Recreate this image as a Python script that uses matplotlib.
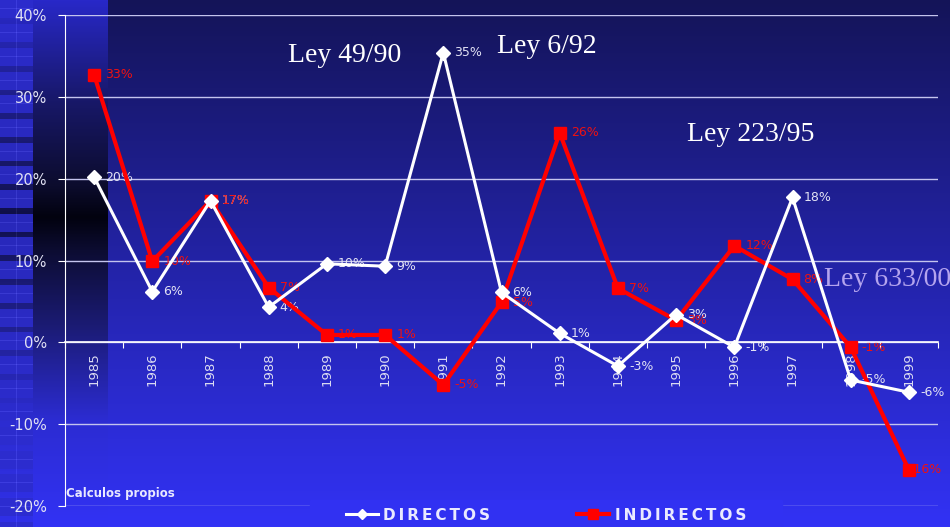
import numpy as np
import matplotlib
matplotlib.use("Agg")
import matplotlib.pyplot as plt
from matplotlib.patches import Rectangle
from matplotlib.ticker import FuncFormatter

# data (percent)
years = [str(y) for y in range(1985, 2000)]
directos = [20.2, 6.2, 17.3, 4.3, 9.6, 9.3, 35.4, 6.1, 1.1, -2.9, 3.4, -0.6, 17.7, -4.6, -6.1]
indirectos = [32.7, 9.9, 17.3, 6.7, 0.9, 0.9, -5.2, 4.9, 25.6, 6.6, 2.7, 11.8, 7.7, -0.6, -15.6]

laws = ["Ley 49/90", "Ley 6/92", "Ley 223/95", "Ley 633/00"]
law_pos = [(4.31, 35.1), (7.78, 36.1), (11.29, 25.4), (13.64, 7.7)]
law_colors = ["white", "white", "white", "#b4a4ee"]

W, H = 950, 527


def background():
    """Dark-to-bright blue gradient with the decorative strip on the left."""
    t = np.linspace(0, 1, H)[:, None]
    top = np.array([20, 20, 88.0])
    bot = np.array([50, 50, 245.0])
    img = np.broadcast_to(top + (bot - top) * t, (H, 3))[:, None, :].repeat(W, axis=1).copy()

    ys = np.arange(H)
    ky = [0, 100, 185, 217, 250, 330, 420, 527]
    rg = np.interp(ys, ky, [40, 24, 12, 2, 12, 28, 44, 50])
    b = np.interp(ys, ky, [200, 105, 45, 15, 50, 120, 210, 245])
    strip = np.stack([rg, rg, b], axis=1)
    img[:, :108, :] = strip[:, None, :]

    # tiles on the far left
    tile = np.array([44, 44, 205.0])
    for y in range(H):
        ph = y % 23.7
        if ph < 18:
            img[y, :33, :] = strip[y] * 0.1 + tile * 0.9
            if 8 <= ph < 9:
                img[y, :33, :] += 16
        else:
            img[y, :33, :] = strip[y] * 0.7 + tile * 0.3
    img[:, 16, :] = img[:, 16, :] + 16
    return np.clip(img, 0, 255) / 255.0


fig = plt.figure(figsize=(W / 100, H / 100), dpi=100)
bg_img = background()
bg = fig.add_axes([0, 0, 1, 1], zorder=-10)
bg.imshow(bg_img, aspect="auto", extent=(0, 1, 0, 1), interpolation="nearest")
bg.axis("off")

ax = fig.add_axes([65 / W, 1 - 506 / H, (938 - 65) / W, (506 - 15) / H])
ax.set_facecolor("none")
x = np.arange(len(years))

ax.plot(x, directos, color="white", lw=2.2, marker="D", ms=7, zorder=4, label="\u2009".join("DIRECTOS"))
ax.plot(x, indirectos, color="#ff0000", lw=3, marker="s", ms=9, zorder=3, label="\u2009".join("INDIRECTOS"))

for i, v in enumerate(directos):
    ax.annotate(f"{round(v)}%", (i, v), xytext=(8, 0), textcoords="offset points",
                va="center", ha="left", fontsize=9, color="#e2e2f4", zorder=2)
for i, v in enumerate(indirectos):
    dx = 0 if i == len(indirectos) - 1 else 8
    ax.annotate(f"{round(v)}%", (i, v), xytext=(dx, 0), textcoords="offset points",
                va="center", ha="left", fontsize=9, color="#ee1111", zorder=2)

for txt, (px, py), c in zip(laws, law_pos, law_colors):
    ax.text(px, py, txt, ha="center", va="center", fontsize=20,
            family="Liberation Serif", color=c, zorder=5)

ax.set_xlim(-0.5, 14.5)
ax.set_ylim(-20, 40)
ax.set_yticks(range(-20, 41, 10))
ax.yaxis.set_major_formatter(FuncFormatter(lambda v, p: f"{int(v)}%"))
ax.tick_params(axis="y", length=5, color="white", labelcolor="#e2e2f4", labelsize=10.5, pad=8)
ax.grid(axis="y", color="#c4c4ee", lw=1, zorder=0)

ax.set_xticks(np.arange(-0.5, 15, 1))
ax.set_xticklabels([])
ax.set_xticks(x, minor=True)
ax.set_xticklabels(years, minor=True)
ax.tick_params(axis="x", which="major", length=4, color="white", direction="out")
ax.tick_params(axis="x", which="minor", length=0, pad=7, labelcolor="#dcdcf2",
               labelsize=9.5, labelrotation=90)

ax.spines["bottom"].set_position(("data", 0))
ax.spines["bottom"].set_color("white")
ax.spines["bottom"].set_linewidth(1.2)
ax.spines["left"].set_color("white")
ax.spines["top"].set_visible(False)
ax.spines["right"].set_visible(False)

fig.text(66 / W, 1 - 494 / H, "Calculos propios", fontsize=8.5, fontweight="bold",
         color="#e8e8ff", va="center", ha="left")

# patch of background behind the legend (hides the -20% line there)
fill = bg_img[515, 500]
fig.add_artist(Rectangle((310 / W, 0), (782 - 310) / W, 1 - 500 / H,
                         transform=fig.transFigure, color=fill, zorder=1))
leg = fig.legend(loc="center", bbox_to_anchor=(546 / W, 1 - 515 / H), ncol=2, frameon=False,
                 prop={"weight": "bold", "size": 11}, handlelength=2.1, handletextpad=0.35,
                 columnspacing=5.7, markerscale=0.8)
leg.set_zorder(2)
for t in leg.get_texts():
    t.set_color("#eaeaff")

fig.savefig("out.png", dpi=100)
